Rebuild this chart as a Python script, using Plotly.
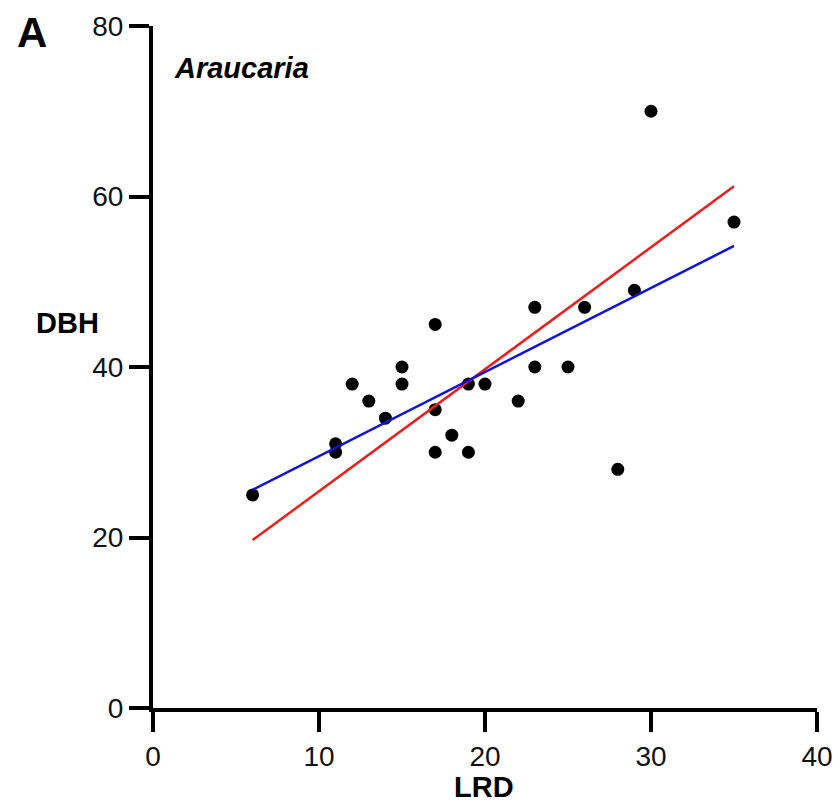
import plotly.graph_objects as go

# Data
lrd = [6, 11, 11, 12, 13, 14, 15, 15, 17, 17, 17, 18, 19, 19, 20, 22, 23, 23, 25, 26, 28, 29, 30, 35]
dbh = [25, 31, 30, 38, 36, 34, 40, 38, 45, 35, 30, 32, 38, 30, 38, 36, 47, 40, 40, 47, 28, 49, 70, 57]

fit_x = [6, 35]
red_fit = [19.7, 61.2]
blue_fit = [25.6, 54.2]

x_ticks = [0, 10, 20, 30, 40]
y_ticks = [0, 20, 40, 60, 80]

FONT = "Liberation Sans, Arial, Helvetica, sans-serif"

W, H = 840, 804
L, R, T, B = 145, 31, 18, 104
PW = W - L - R
PH = H - T - B
OFF = 8  # page body margin


def px(x):
    return (x - OFF - L) / PW


def py(y):
    return (H - B - (y - OFF)) / PH


fig = go.Figure()
fig.add_trace(go.Scatter(x=lrd, y=dbh, mode="markers",
                         marker=dict(color="black", size=13, line=dict(width=0)),
                         showlegend=False))
fig.add_trace(go.Scatter(x=fit_x, y=red_fit, mode="lines",
                         line=dict(color="#ee1c1c", width=2.5), showlegend=False))
fig.add_trace(go.Scatter(x=fit_x, y=blue_fit, mode="lines",
                         line=dict(color="#1010e0", width=2.5), showlegend=False))

axis_common = dict(showgrid=False, zeroline=False, automargin=False,
                   showline=True, linecolor="black", linewidth=4,
                   ticks="outside", ticklen=20, tickwidth=4, tickcolor="black",
                   tickfont=dict(size=28, color="#111"))

fig.update_layout(
    width=W, height=H,
    margin=dict(l=L, r=R, t=T, b=B),
    paper_bgcolor="white", plot_bgcolor="white",
    font=dict(family=FONT, size=20, color="black"),
    xaxis=dict(range=[0, 40], tickvals=x_ticks, **axis_common),
    yaxis=dict(range=[0, 80], tickvals=y_ticks, **axis_common),
    annotations=[
        dict(text="<b>A</b>", x=px(32), y=py(33), xref="paper", yref="paper",
             xanchor="center", yanchor="middle", showarrow=False,
             font=dict(size=42)),
        dict(text="<b><i>Araucaria</i></b>", x=px(172), y=py(68), xref="paper", yref="paper",
             xanchor="left", yanchor="middle", showarrow=False,
             font=dict(size=29)),
        dict(text="<b>DBH</b>", x=px(67), y=py(323), xref="paper", yref="paper",
             xanchor="center", yanchor="middle", showarrow=False,
             font=dict(size=29)),
        dict(text="<b>LRD</b>", x=px(484), y=py(787), xref="paper", yref="paper",
             xanchor="center", yanchor="middle", showarrow=False,
             font=dict(size=29)),
    ],
)

fig.write_html("out.html")
